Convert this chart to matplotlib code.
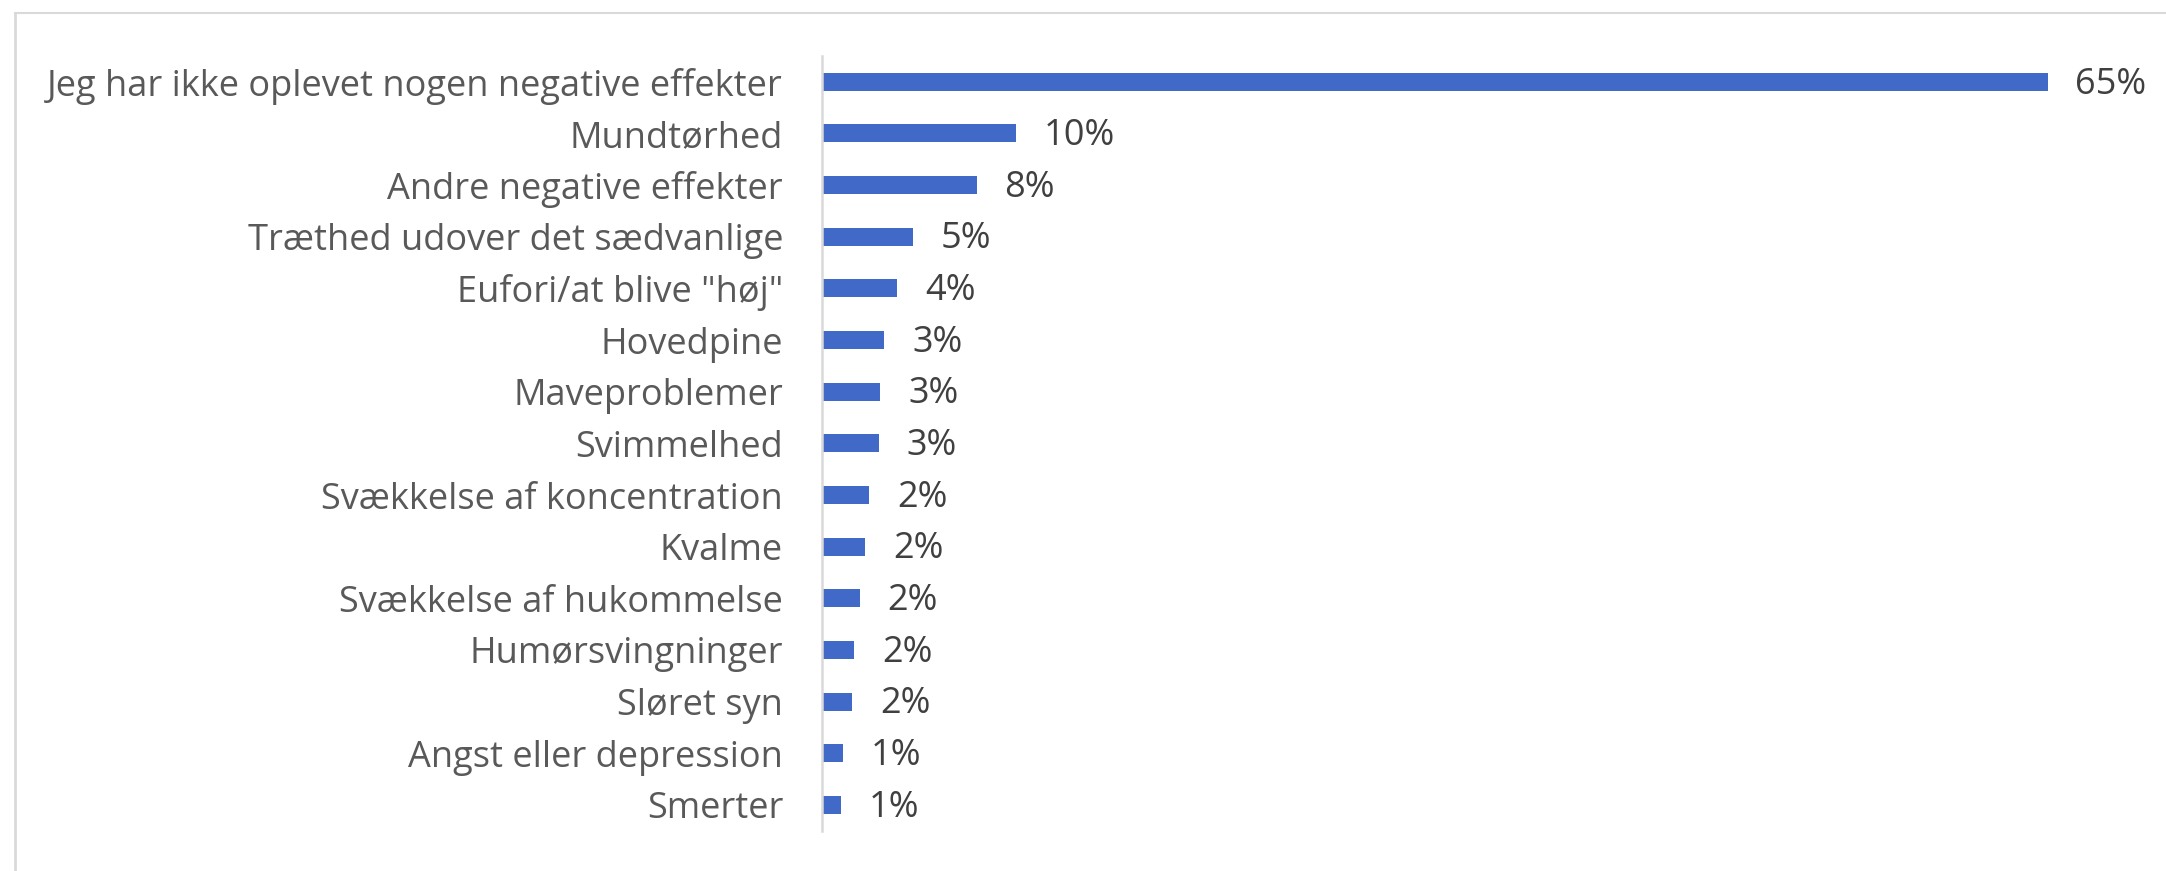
import matplotlib
matplotlib.use("Agg")
import matplotlib.pyplot as plt
from matplotlib.lines import Line2D

categories = [
    "Jeg har ikke oplevet nogen negative effekter",
    "Mundtørhed",
    "Andre negative effekter",
    "Træthed udover det sædvanlige",
    "Eufori/at blive \"høj\"",
    "Hovedpine",
    "Maveproblemer",
    "Svimmelhed",
    "Svækkelse af koncentration",
    "Kvalme",
    "Svækkelse af hukommelse",
    "Humørsvingninger",
    "Sløret syn",
    "Angst eller depression",
    "Smerter",
]
values = [65.0, 10.3, 8.2, 4.8, 4.0, 3.3, 3.1, 3.0, 2.5, 2.3, 2.0, 1.7, 1.6, 1.1, 1.0]
value_labels = ["65%", "10%", "8%", "5%", "4%", "3%", "3%", "3%", "2%", "2%", "2%", "2%", "2%", "1%", "1%"]

W, H = 2166, 871
fig = plt.figure(figsize=(W / 100, H / 100), dpi=100)
fig.patch.set_facecolor("white")

ax = fig.add_axes([822 / W, 1 - 830.8 / H, (2142 - 822) / W, (830.8 - 55.9) / H])
ypos = list(range(len(categories)))
ax.barh(ypos, values, height=0.35, color="#4169C8")
ax.set_ylim(len(categories) - 0.5, -0.5)
ax.set_xlim(0, 70)

ax.set_yticks(ypos)
ax.set_yticklabels(categories, fontsize=26, color="#595959", family=["Open Sans", "DejaVu Sans"])
ax.tick_params(axis="y", length=0, pad=28)
ax.set_xticks([])
for s in ["top", "right", "bottom"]:
    ax.spines[s].set_visible(False)
ax.spines["left"].set_color("#d9d9d9")
ax.spines["left"].set_linewidth(1.8)

for y, v, lab in zip(ypos, values, value_labels):
    ax.annotate(lab, xy=(v, y), xytext=(20, -2), textcoords="offset points",
                ha="left", va="center", fontsize=26, color="#404040",
                family=["Open Sans", "DejaVu Sans"])

# outer chart frame (partially visible)
fig.add_artist(Line2D([15 / W, 1], [1 - 13 / H, 1 - 13 / H], transform=fig.transFigure,
                      color="#d9d9d9", linewidth=1.5))
fig.add_artist(Line2D([15 / W, 15 / W], [1 - 13 / H, 0], transform=fig.transFigure,
                      color="#d9d9d9", linewidth=2))

fig.savefig("out.png", dpi=100, facecolor="white")
